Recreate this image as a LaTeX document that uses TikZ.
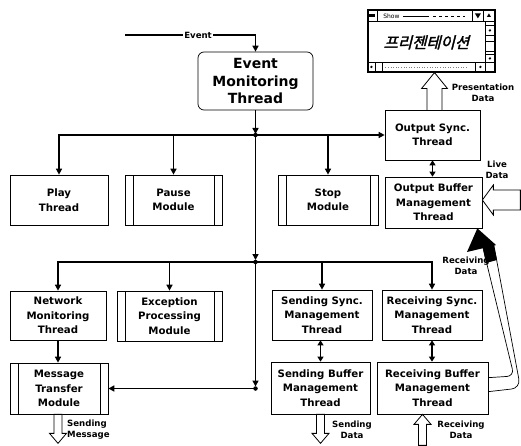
\documentclass[tikz,border=0pt]{standalone}
\usepackage{fontspec}
\setmainfont{DejaVu Sans}
\newfontfamily\krfont[FakeSlant=0.25,FakeBold=2]{Noto Sans CJK KR}
\usetikzlibrary{positioning,arrows.meta,calc}

\begin{document}
\begin{tikzpicture}[x=1pt, y=-1pt,
  box/.style={draw, line width=0.7pt, align=center, inner sep=1pt, font=\bfseries\fontsize{10.2}{14.5}\selectfont},
  module/.style={box, path picture={\draw[line width=0.7pt]
    ([xshift=8pt]path picture bounding box.north west) -- ([xshift=8pt]path picture bounding box.south west)
    ([xshift=-8pt]path picture bounding box.north east) -- ([xshift=-8pt]path picture bounding box.south east);}},
  flow/.style={line width=1.6pt, -{Triangle[length=6pt,width=6pt]}},
  both/.style={line width=1.6pt, {Triangle[length=5pt,width=6pt]}-{Triangle[length=5pt,width=6pt]}},
  % hollow arrow: length / shaft half width / head half width / head length, tip at the pic origin
  pics/hollow/.style args={#1/#2/#3/#4}{code={
    \draw[line width=0.8pt, fill=white] (0,0) -- (-#4,#3) -- (-#4,#2) -- (-#1,#2) -- (-#1,-#2)
      -- (-#4,-#2) -- (-#4,-#3) -- cycle;}},
  tag/.style={font=\bfseries\fontsize{8.6}{11.5}\selectfont, align=center, inner sep=0pt},
  joint/.style={circle, fill, inner sep=0pt, minimum size=4.5pt}]
\useasboundingbox (0,0) rectangle (521,446);

% top: event input and monitoring thread
\node[box, rounded corners=6pt, minimum width=115pt, minimum height=58pt,
  font=\bfseries\fontsize{14}{17.5}\selectfont] (evt) at (255.5,81) {Event\\Monitoring\\Thread};
\coordinate (evin) at (125,35);
\draw[flow] (evin) -- node[tag, pos=0.56, fill=white, inner xsep=1.5pt] {Event} (evin -| evt.north) -- (evt.north);

% presentation window
\node[draw, line width=1.2pt, minimum width=127pt, minimum height=62pt, inner sep=0pt] (win) at (431.5,41) {};
\begin{scope}[shift={(win.north west)}, line width=0.6pt]
  \draw (0,12) -- (127,12);
  \draw (0,0) rectangle (10,12);
  \fill (2,4.5) rectangle (8,7.5);
  \node[font=\fontsize{6}{6}\selectfont, inner sep=0pt] (wintitle) at (24,6.5) {Show};
  \draw (36,6.5) -- (62,6.5);
  \draw[dashed] (66,6.5) -- (98,6.5);
  \draw (105,0) rectangle (116,12);
  \fill (107.5,4) -- (113.5,4) -- (110.5,9) -- cycle;
  \draw (116,0) rectangle (127,12);
  \fill (119.5,7.5) -- (123.5,7.5) -- (121.5,4) -- cycle;
  \draw (118,12) -- (118,62);
  \draw (118,16) rectangle (127,26);
  \fill (122.5,21) circle (1.3pt);
  \draw (118,32) rectangle (127,42);
  \draw (118,45) rectangle (127,53);
  \fill (122.5,49) circle (1.3pt);
  \draw (0,53) -- (118,53);
  \draw (0,53) rectangle (8,62);
  \fill (4,57.5) circle (1.3pt);
  \draw (8,53) rectangle (15,62);
  \draw[dotted, gray] (18,57.5) -- (100,57.5);
  \draw (108,53) rectangle (118,62);
  \fill (113,57.5) circle (1.3pt);
  \node[font=\krfont\fontsize{15.5}{16}\selectfont, inner sep=0pt] (wintext) at (59,33) {프리젠테이션};
\end{scope}

% first row
\node[box, minimum width=95pt, minimum height=50pt] (osync) at (432.5,135) {Output Sync.\\Thread};
\node[box, minimum width=98pt, minimum height=50pt] (play) at (59,200) {Play\\Thread};
\node[module, minimum width=97pt, minimum height=50pt] (pause) at (173.5,200) {Pause\\Module};
\node[module, minimum width=100pt, minimum height=50pt] (stop) at (328,200) {Stop\\Module};
\node[box, minimum width=97pt, minimum height=51pt] (obuf) at (433.5,202.5) {Output Buffer\\Management\\Thread};

% second row
\node[box, minimum width=96pt, minimum height=49pt] (net) at (58,315.5) {Network\\Monitoring\\Thread};
\node[module, minimum width=105pt, minimum height=50pt] (exc) at (169.5,316) {Exception\\Processing\\Module};
\node[box, minimum width=100pt, minimum height=50pt] (ssync) at (322,315) {Sending Sync.\\Management\\Thread};
\node[box, minimum width=100pt, minimum height=50pt] (rsync) at (432,315) {Receiving Sync.\\Management\\Thread};

% third row
\node[module, minimum width=98pt, minimum height=51pt] (mtm) at (59,388.5) {Message\\Transfer\\Module};
\node[box, minimum width=99pt, minimum height=52pt] (sbuf) at (320.5,388) {Sending Buffer\\Management\\Thread};
\node[box, minimum width=111pt, minimum height=52pt] (rbuf) at (432.5,388) {Receiving Buffer\\Management\\Thread};

% control flow
\coordinate (j1) at (evt.south |- osync.west);
\coordinate (j2) at (255.5,262);
\coordinate (j3) at (evt.south |- mtm.east);
\draw[flow, shorten >=1pt] (evt.south) -- (j1);
\draw[flow] (j1) -- (osync.west);
\draw[flow] (j1) -| (play.north);
\draw[flow] (j1) -| (pause.north);
\draw[flow] (j1) -| (stop.north);
\draw[flow, shorten >=2pt] (j1) -- (j2);
\draw[flow] (j2) -| (net.north);
\draw[flow] (j2) -| (exc.north);
\draw[flow] (j2) -| (ssync.north);
\draw[flow] (j2) -| (rsync.north);
\draw[flow, shorten >=2pt] (j2) -- (j3);
\draw[flow] (j3) -- (mtm.east);
\draw[flow] (net.south) -- (net.south |- mtm.north);
\draw[both] (osync.south) -- (osync.south |- obuf.north);
\draw[both] (sbuf.north |- ssync.south) -- (sbuf.north);
\draw[both] (rsync.south) -- (rsync.south |- rbuf.north);
\foreach \j in {j1,j2,j3} \node[joint] at (\j) {};

% data arrows
\coordinate (livein) at (520,200);
\pic[rotate=90] (presarr) at ([xshift=3pt]win.south) {hollow=38/7.5/13/16};
\pic[rotate=180] (livearr) at (obuf.east |- livein) {hollow=38/10/15/11};
\pic[rotate=-90] (smarr) at ($(mtm.south)+(-1,29)$) {hollow=29/4/8.5/10};
\pic[rotate=-90] (sdarr) at ($(sbuf.south)+(0,29)$) {hollow=29/4/8.5/10};
\pic[rotate=90] (rdarr) at ([xshift=-10pt]rbuf.south) {hollow=31/4/8.5/10};

% receiving data band from the receiving buffer to the output buffer
\coordinate (rbin) at ([yshift=-16pt]rbuf.north east);
\coordinate (rbout) at ([yshift=-30pt]rbuf.north east);
\coordinate (rbtip) at ([xshift=-5pt]obuf.south east);
\draw[line width=0.7pt, rounded corners=7pt] (rbin) -- (514,376) -- (483,248);
\draw[line width=0.7pt, rounded corners=9pt] (rbout) -- (520.5,388) -- (494,246);
\fill (rbtip) -- (467,252) -- (483,248.2) -- (486,263) -- (497,260) -- (494,245.7) -- (496,245) -- cycle;

% labels
\node[tag] (presdata) at (483,93) {Presentation\\Data};
\node[tag] (livedata) at (497,170) {Live\\Data};
\node[tag] (recvdata) at (466,266) {Receiving\\Data};
\node[tag, align=left, anchor=west] (sendmsg) at (67,429.5) {Sending\\Message};
\node[tag] (senddata) at (352,430) {Sending\\Data};
\node[tag] (recvdata2) at (461,430) {Receiving\\Data};
\end{tikzpicture}
\end{document}
